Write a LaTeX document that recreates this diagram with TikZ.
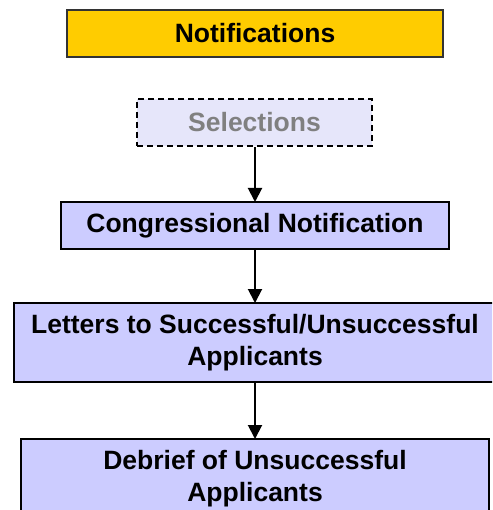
\documentclass[tikz,border=0pt]{standalone}
\usepackage{fontspec}
\setmainfont{Liberation Sans}
\usetikzlibrary{arrows.meta}
\definecolor{gold}{HTML}{FFCC00}
\definecolor{lav}{HTML}{CCCCFF}
\definecolor{lavpale}{HTML}{E6E6FA}
\definecolor{greytext}{HTML}{808080}
\tikzset{
  base/.style={rectangle, line width=2pt, inner sep=0pt, align=center,
    font=\fontsize{26.5}{32}\selectfont\bfseries},
  header/.style={base, draw=black!80, fill=gold},
  stage/.style={base, draw=black, fill=lav},
  ghost/.style={base, draw=black, dashed, dash pattern=on 6pt off 4pt,
    fill=lavpale, text=greytext},
  flow/.style={line width=2pt, -{Triangle[width=14pt,length=14pt]}, shorten >=-1pt}
}
\begin{document}
\begin{tikzpicture}[x=1pt,y=-1pt]
  \useasboundingbox (0,0) rectangle (492,510);
  \clip (0,0) rectangle (492,510);
  \node[header, minimum width=376pt, minimum height=47pt] (notif) at (255,33.5) {Notifications};
  \node[ghost,  minimum width=235pt, minimum height=47pt] (sel)   at (254.5,122.5) {Selections};
  \node[stage,  minimum width=388pt, minimum height=47pt] (cong)  at (255,225.5) {Congressional Notification};
  \node[stage,  minimum width=482pt, minimum height=79pt] (lett)  at (255,342.5) {Letters to Successful/Unsuccessful\\Applicants};
  \node[stage,  minimum width=468pt, minimum height=79pt] (debr)  at (255,478.5) {Debrief of Unsuccessful\\Applicants};
  \draw[flow] (sel.south -| cong.north) -- (cong.north);
  \draw[flow] (cong) -- (lett);
  \draw[flow] (lett) -- (debr);
\end{tikzpicture}
\end{document}
